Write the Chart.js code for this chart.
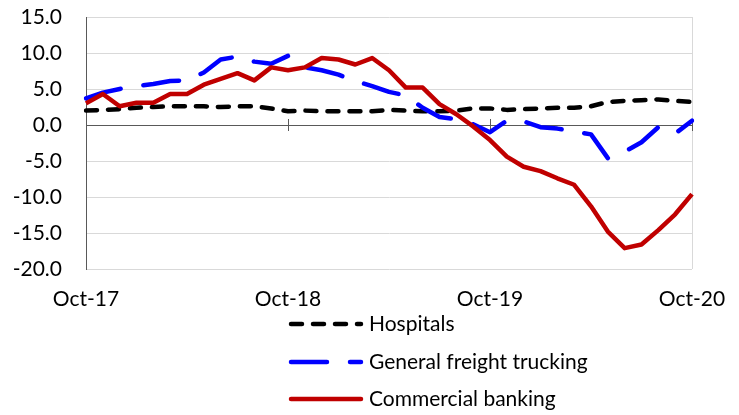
<!DOCTYPE html>
<html>
<head>
<meta charset="utf-8">
<script src="https://cdn.jsdelivr.net/npm/chart.js@4"></script>
<style>
  html, body { margin: 0; padding: 0; background: #fff; }
  #chart { display: block; }
</style>
</head>
<body>
<canvas id="chart" width="739" height="415"></canvas>
<script>
// Monthly categories
const months = ['Oct-17', 'Nov-17', 'Dec-17', 'Jan-18', 'Feb-18', 'Mar-18', 'Apr-18', 'May-18', 'Jun-18',
    'Jul-18', 'Aug-18', 'Sep-18', 'Oct-18', 'Nov-18', 'Dec-18', 'Jan-19', 'Feb-19', 'Mar-19', 'Apr-19',
    'May-19', 'Jun-19', 'Jul-19', 'Aug-19', 'Sep-19', 'Oct-19', 'Nov-19', 'Dec-19', 'Jan-20', 'Feb-20',
    'Mar-20', 'Apr-20', 'May-20', 'Jun-20', 'Jul-20', 'Aug-20', 'Sep-20', 'Oct-20'];

// Series values
const hospitals = [2.0, 2.1, 2.2, 2.4, 2.5, 2.6, 2.6, 2.6, 2.5, 2.6, 2.6, 2.3, 1.9, 2.0, 1.9, 1.9, 1.9, 1.9, 2.1,
    2.0, 1.9, 1.9, 2.0, 2.3, 2.3, 2.1, 2.2, 2.3, 2.4, 2.4, 2.6, 3.2, 3.35, 3.45, 3.55, 3.35, 3.2];
const freightTrucking = [3.7, 4.5, 5.0, 5.4, 5.7, 6.1, 6.2, 7.3, 9.1, 9.5, 8.8, 8.5, 9.6, 8.0, 7.6, 7.0, 6.1, 5.4, 4.6,
    4.1, 2.4, 1.1, 0.8, 0.1, -1.0, 0.6, 0.5, -0.3, -0.5, -0.9, -1.3, -4.6, -3.7, -2.4, -0.3, -1.2, 0.6];
const commercialBanking = [3.0, 4.3, 2.6, 3.1, 3.1, 4.3, 4.3, 5.6, 6.4, 7.2, 6.2, 8.0, 7.6, 8.0, 9.3, 9.1, 8.4, 9.3, 7.6,
    5.2, 5.2, 2.9, 1.5, -0.2, -2.1, -4.4, -5.8, -6.4, -7.4, -8.3, -11.3, -14.8, -17.1, -16.6, -14.6, -12.4, -9.6];

// Axis settings
const yMin = -20;
const yMax = 15;
const yStep = 5;
const labelEvery = 12;

const FONT = 'Lato, "Open Sans", sans-serif';

// zero line with crossing ticks + right plot border
const axisPlugin = {
    id: 'zeroAxis',
    beforeDatasetsDraw(chart) {
        const { ctx, chartArea, scales } = chart;
        const y0 = scales.y.getPixelForValue(0);
        ctx.save();
        ctx.strokeStyle = '#d9d9d9';
        ctx.lineWidth = 1;
        ctx.beginPath();
        ctx.moveTo(Math.round(chartArea.right) + 0.5, chartArea.top);
        ctx.lineTo(Math.round(chartArea.right) + 0.5, chartArea.bottom);
        ctx.stroke();
        ctx.strokeStyle = '#595959';
        ctx.beginPath();
        ctx.moveTo(chartArea.left, Math.round(y0) + 0.5);
        ctx.lineTo(chartArea.right, Math.round(y0) + 0.5);
        for (let i = labelEvery; i < months.length; i += labelEvery) {
            const x = Math.round(scales.x.getPixelForValue(i)) + 0.5;
            ctx.moveTo(x, y0 - 6);
            ctx.lineTo(x, y0 + 6);
        }
        ctx.stroke();
        ctx.restore();
    }
};

// stacked legend below the plot
const legendPlugin = {
    id: 'stackLegend',
    afterDraw(chart) {
        const { ctx } = chart;
        const rowsY = [324, 362, 399];
        const x1 = 291, x2 = 361;
        ctx.save();
        chart.data.datasets.forEach((ds, i) => {
            const y = rowsY[i];
            ctx.strokeStyle = ds.borderColor;
            ctx.lineWidth = ds.borderWidth;
            ctx.lineCap = 'round';
            ctx.setLineDash(ds.borderDash || []);
            ctx.beginPath();
            ctx.moveTo(x1, y);
            ctx.lineTo(x2, y);
            ctx.stroke();
            ctx.setLineDash([]);
            ctx.fillStyle = '#000';
            ctx.font = '21px ' + FONT;
            ctx.textBaseline = 'middle';
            ctx.textAlign = 'left';
            ctx.fillText(ds.label, 369, y);
        });
        ctx.restore();
    }
};

const config = {
    type: 'line',
    data: {
        labels: months,
        datasets: [{
            label: 'Hospitals',
            data: hospitals,
            borderColor: '#000000',
            borderWidth: 4.5,
            borderDash: [11, 11],
            borderCapStyle: 'round',
            order: 3
        }, {
            label: 'General freight trucking',
            data: freightTrucking,
            borderColor: '#0000ff',
            borderWidth: 4.5,
            borderDash: [36, 23],
            borderCapStyle: 'round',
            order: 2
        }, {
            label: 'Commercial banking',
            data: commercialBanking,
            borderColor: '#c00000',
            borderWidth: 4.5,
            order: 1
        }]
    },
    options: {
        responsive: false,
        animation: false,
        devicePixelRatio: 1,
        layout: { padding: { top: 17, right: 47, bottom: 0, left: 0 } },
        elements: {
            point: { radius: 0 },
            line: { tension: 0, borderJoinStyle: 'round' }
        },
        plugins: {
            legend: { display: false },
            tooltip: { enabled: false }
        },
        scales: {
            x: {
                type: 'category',
                offset: false,
                grid: { display: false, drawTicks: false },
                border: { display: false },
                ticks: {
                    autoSkip: false,
                    maxRotation: 0,
                    padding: 18,
                    color: '#000',
                    font: { family: FONT, size: 21 },
                    callback: (val, idx) => (idx % labelEvery === 0 ? months[idx] : null)
                },
                afterFit: s => { s.height = 146; s.paddingLeft = 0; s.paddingRight = 0; }
            },
            y: {
                min: yMin,
                max: yMax,
                grid: {
                    drawTicks: false,
                    color: c => (c.tick && c.tick.value === 0 ? 'transparent' : '#d9d9d9')
                },
                border: { color: '#595959', width: 1 },
                ticks: {
                    stepSize: yStep,
                    padding: 24,
                    color: '#000',
                    font: { family: FONT, size: 21 },
                    callback: v => v.toFixed(1)
                },
                afterFit: s => { s.width = 86; s.paddingTop = 0; s.paddingBottom = 0; }
            }
        }
    },
    plugins: [axisPlugin, legendPlugin]
};

window.onload = function() {
    const ctx = document.getElementById('chart').getContext('2d');
    new Chart(ctx, config);
};
</script>
</body>
</html>
